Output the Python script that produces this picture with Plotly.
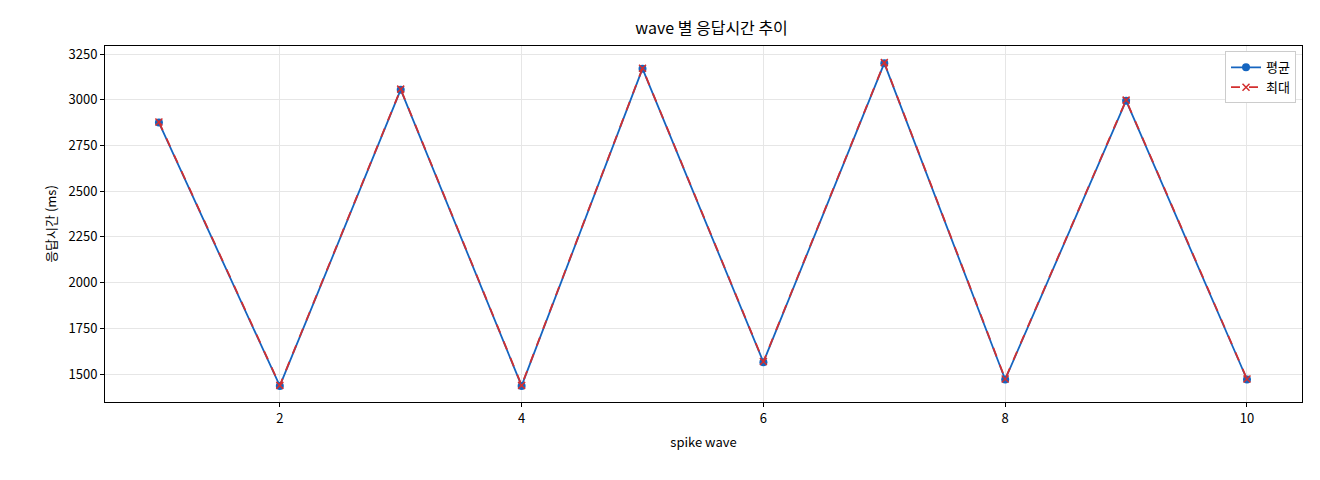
import plotly.graph_objects as go

waves = [1, 2, 3, 4, 5, 6, 7, 8, 9, 10]
avg_ms = [2875, 1435, 3055, 1435, 3170, 1565, 3200, 1470, 2995, 1470]
max_ms = [2878, 1438, 3058, 1438, 3172, 1568, 3203, 1473, 2998, 1473]

font = "Noto Sans CJK KR"

fig = go.Figure()
fig.add_trace(go.Scatter(x=waves, y=avg_ms, name="평균", mode="lines+markers",
                         line=dict(color="#1565c0", width=1.8),
                         marker=dict(symbol="circle", size=8, color="#1565c0")))
fig.add_trace(go.Scatter(x=waves, y=max_ms, name="최대", mode="lines+markers",
                         line=dict(color="#d32f2f", width=1.8, dash="dash"),
                         marker=dict(symbol="x-thin", size=7, color="#d32f2f",
                                     line=dict(color="#d32f2f", width=1.5))))

axis = dict(showline=True, linecolor="black", mirror=True, ticks="outside",
            ticklen=4, tickcolor="black", gridcolor="#e6e6e6", zeroline=False,
            tickfont=dict(size=13, color="black"))
fig.update_layout(
    width=1320, height=480, plot_bgcolor="white", paper_bgcolor="white",
    font=dict(family=font, color="black"),
    title=dict(text="wave 별 응답시간 추이", x=0.533, y=0.97, xanchor="center",
               font=dict(size=16)),
    margin=dict(l=97, r=26, t=38, b=86),
    xaxis=dict(axis, range=[0.554, 10.455], tickvals=[2, 4, 6, 8, 10],
               title=dict(text="spike wave", font=dict(size=13), standoff=12)),
    yaxis=dict(axis, range=[1347, 3294], dtick=250,
               title=dict(text="응답시간 (ms)", font=dict(size=13), standoff=8)),
    legend=dict(x=0.995, y=0.985, xanchor="right", yanchor="top",
                bordercolor="#cccccc", borderwidth=1, font=dict(size=13)),
)
fig.write_html("out.html")
